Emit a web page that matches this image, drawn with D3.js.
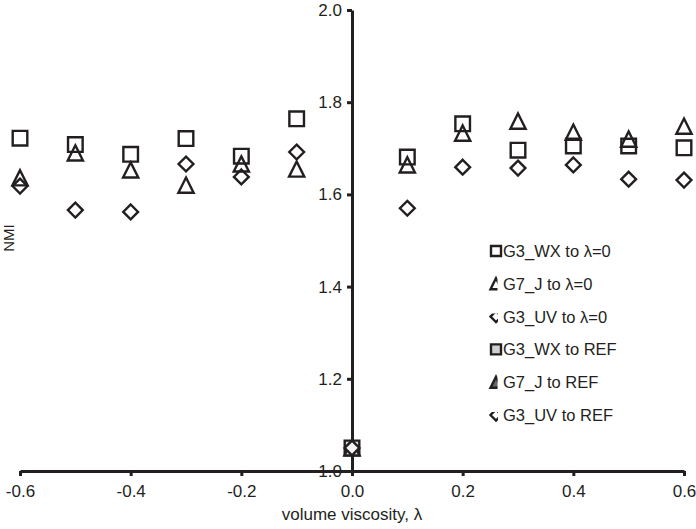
<!DOCTYPE html>
<html>
<head>
<meta charset="utf-8">
<script src="https://cdn.jsdelivr.net/npm/d3@7"></script>
<style>
  body { margin: 0; background: #fff; }
  svg text { font-family: "Liberation Sans", Arial, sans-serif; fill: #231f20; }
</style>
</head>
<body>
<div id="chart"></div>
<script>
// lambda positions
const lambdas = [-0.6, -0.5, -0.4, -0.3, -0.2, -0.1, 0.1, 0.2, 0.3, 0.4, 0.5, 0.6];

// NMI values
const wxToZero = [1.722, 1.708, 1.687, 1.721, 1.683, 1.764, 1.681, 1.753, 1.696, 1.705, 1.705, 1.701];
const jToZero  = [1.636, 1.690, 1.653, 1.620, 1.666, 1.655, 1.664, 1.733, 1.759, 1.735, 1.720, 1.748];
const uvToZero = [1.618, 1.566, 1.562, 1.666, 1.638, 1.692, 1.570, 1.659, 1.657, 1.664, 1.633, 1.631];

// reference runs only at lambda = 0
const refLambda = [0.0];
const wxToRef = [1.050];
const jToRef  = [1.050];
const uvToRef = [1.050];

const xTicks = [-0.6, -0.4, -0.2, 0.0, 0.2, 0.4, 0.6];
const yTicks = [1.0, 1.2, 1.4, 1.6, 1.8, 2.0];

const width = 696, height = 529;
const ink = '#231f20';

const svg = d3.select('#chart')
  .append('svg')
  .attr('width', width)
  .attr('height', height);

const x = d3.scaleLinear().domain([-0.6, 0.6]).range([20, 684]);
const y = d3.scaleLinear().domain([1.0, 2.0]).range([471, 10]);

// plain hyphen for negatives, like the original
const fmt = d => d3.format('.1f')(d).replace('\u2212', '-');

// marker paths, centred on their bounding box
function shape(kind, h) {
  if (kind === 'square') return `M${-h},${-h}H${h}V${h}H${-h}Z`;
  if (kind === 'triangle') return `M0,${-h}L${h},${h}L${-h},${h}Z`;
  return `M0,${-h}L${h},0L0,${h}L${-h},0Z`;
}

// X axis
const xAxis = svg.append('g')
  .attr('transform', 'translate(0,' + y(1.0) + ')')
  .call(d3.axisBottom(x).tickValues(xTicks).tickFormat(fmt)
    .tickSize(5).tickSizeOuter(0).tickPadding(9));

// Y axis crosses at lambda = 0
const yAxis = svg.append('g')
  .attr('transform', 'translate(' + x(0) + ',0)')
  .call(d3.axisLeft(y).tickValues(yTicks).tickFormat(fmt)
    .tickSize(5).tickSizeOuter(0).tickPadding(9));

[xAxis, yAxis].forEach(g => {
  g.select('.domain').attr('stroke', ink).attr('stroke-width', 3);
  g.selectAll('.tick line').attr('stroke', ink).attr('stroke-width', 3);
  g.selectAll('.tick text').style('font-size', '17px').attr('fill', ink);
});
yAxis.selectAll('.tick text').attr('x', -10);

// axis titles
svg.append('text')
  .attr('x', x(0))
  .attr('y', 520)
  .attr('text-anchor', 'middle')
  .style('font-size', '17px')
  .text('volume viscosity, λ');

svg.append('text')
  .attr('transform', 'translate(14,238) rotate(-90)')
  .attr('text-anchor', 'middle')
  .style('font-size', '15px')
  .text('NMI');

// series
const series = [
  { name: 'G3_WX to λ=0', kind: 'square',   xs: lambdas,   ys: wxToZero, fill: '#fff',    legFill: '#fff' },
  { name: 'G7_J to λ=0',  kind: 'triangle', xs: lambdas,   ys: jToZero,  fill: 'none',    legFill: 'none' },
  { name: 'G3_UV to λ=0', kind: 'diamond',  xs: lambdas,   ys: uvToZero, fill: 'none',    legFill: 'none' },
  { name: 'G3_WX to REF', kind: 'square',   xs: refLambda, ys: wxToRef,  fill: '#dcdcdc', legFill: '#d0d0d0' },
  { name: 'G7_J to REF',  kind: 'triangle', xs: refLambda, ys: jToRef,   fill: '#dcdcdc', legFill: '#666' },
  { name: 'G3_UV to REF', kind: 'diamond',  xs: refLambda, ys: uvToRef,  fill: '#f4f4f4', legFill: 'none' }
];
const markerHalf = { square: 7.3, triangle: 7.6, diamond: 7.4 };

series.forEach(s => {
  svg.append('g')
    .selectAll('path')
    .data(s.xs.map((v, i) => ({ l: v, v: s.ys[i] })))
    .enter()
    .append('path')
    .attr('d', shape(s.kind, markerHalf[s.kind]))
    .attr('transform', d => 'translate(' + x(d.l) + ',' + y(d.v) + ')')
    .attr('fill', s.fill)
    .attr('stroke', ink)
    .attr('stroke-width', 2.4)
    .attr('stroke-linejoin', 'miter');
});

// legend (markers are clipped, as in the original)
const legClip = {
  square:   { x: -7, y: -7, w: 14, h: 14 },
  triangle: { x: -9, y: -9, w: 10.5, h: 18 },
  diamond:  { x: -9, y: -3, w: 11, h: 12 }
};
const defs = svg.append('defs');
Object.keys(legClip).forEach(k => {
  const c = legClip[k];
  defs.append('clipPath').attr('id', 'clip-' + k)
    .append('rect').attr('x', c.x).attr('y', c.y).attr('width', c.w).attr('height', c.h);
});

const legend = svg.append('g').attr('transform', 'translate(496,251)');
series.forEach((s, i) => {
  const row = legend.append('g').attr('transform', 'translate(0,' + (i * 32.8) + ')');
  row.append('path')
    .attr('d', shape(s.kind, s.kind === 'square' ? 5 : 5.5))
    .attr('clip-path', 'url(#clip-' + s.kind + ')')
    .attr('fill', s.legFill)
    .attr('stroke', ink)
    .attr('stroke-width', 2.4);
  row.append('text')
    .attr('x', 7)
    .attr('y', 6)
    .style('font-size', '16.5px')
    .text(s.name);
});
</script>
</body>
</html>
